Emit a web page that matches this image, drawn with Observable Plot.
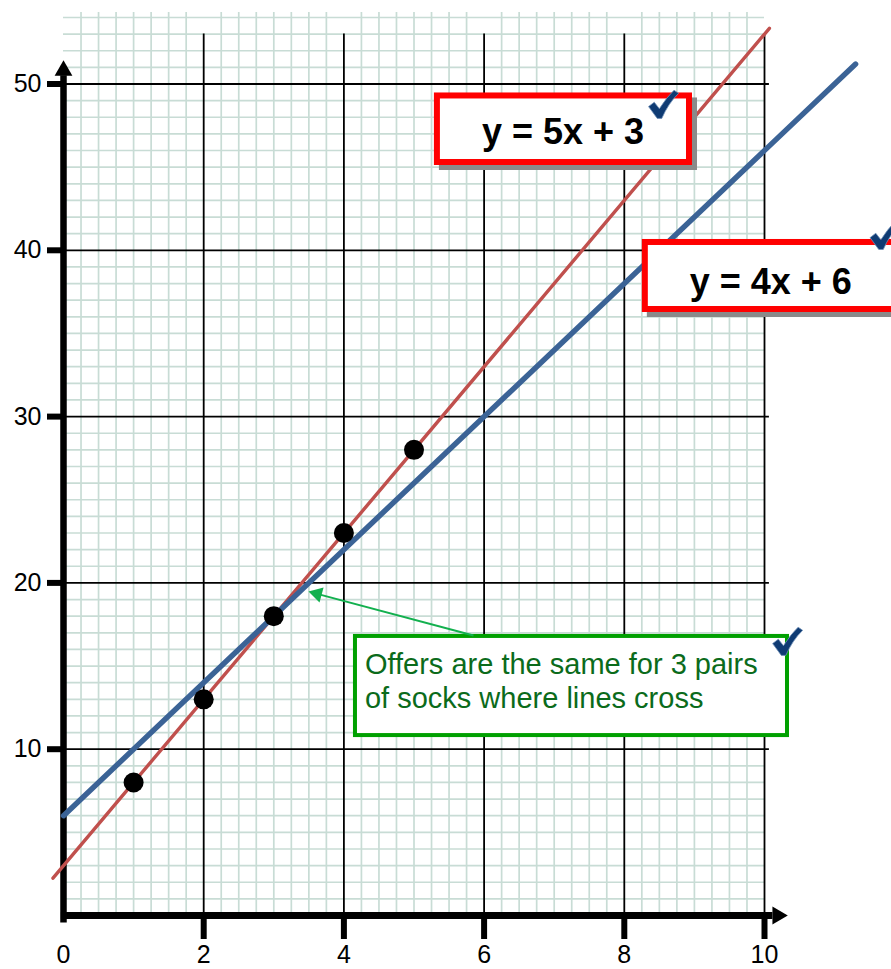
<!DOCTYPE html>
<html>
<head>
<meta charset="utf-8">
<script src="https://cdn.jsdelivr.net/npm/d3@7"></script>
<script src="https://cdn.jsdelivr.net/npm/@observablehq/plot@0.6"></script>
<style>
  html, body { margin: 0; padding: 0; background: #fff; }
  #chart svg { display: block; }
</style>
</head>
<body>
<div id="chart"></div>
<script>
// Pairs of socks bought and the price paid (points plotted on the grid)
const pairs = [1, 2, 3, 4, 5];
const prices = [8, 13, 18, 23, 28];

// The two offers, written as straight lines y = slope * x + intercept
const offerNames = ["y = 5x + 3", "y = 4x + 6"];
const slopes = [5, 4];
const intercepts = [3, 6];
const lineFrom = [-0.15, 0];
const lineTo = [10.07, 11.3];

// Axis tick labels
const xTicks = [0, 2, 4, 6, 8, 10];
const yTicks = [10, 20, 30, 40, 50];

const note = "Offers are the same for 3 pairs\nof socks where lines cross";

const FONT = "'Liberation Sans', Arial, Helvetica, sans-serif";
const GRID = "#c8dcd5";
const RED_LINE = "#c0504d";
const BLUE_LINE = "#3b6396";
const TICK_NAVY = "#0f3b73";

// Straight line for each offer, built from its equation
const offerLines = offerNames.flatMap((name, i) => [
  {name, x: lineFrom[i], y: slopes[i] * lineFrom[i] + intercepts[i]},
  {name, x: lineTo[i], y: slopes[i] * lineTo[i] + intercepts[i]}
]);

// Equation call-outs (box edges and text anchor in data units)
const equationBoxes = [
  {label: offerNames[0], x1: 5.334, x2: 8.93, y1: 49.28, y2: 45.28, tx: 7.125, ty: 47.08},
  {label: offerNames[1], x1: 8.30, x2: 12.4, y1: 40.47, y2: 36.44, tx: 10.09, ty: 38.06}
];
const noteBox = [{x1: 4.165, x2: 10.328, y1: 16.78, y2: 10.82, tx: 4.30, ty: 15.95}];
const noteArrow = [{x1: 5.849, y1: 16.84, x2: 3.619, y2: 19.34}];
const checkMarks = [{x: 8.56, y: 48.77}, {x: 11.72, y: 40.89}, {x: 10.33, y: 16.48}];

// Brush-style tick (check) mark as a custom dot symbol
const checkSymbol = {
  draw(context, size) {
    const r = Math.sqrt(size / Math.PI);
    const sx = r, sy = r * 0.95;
    const P = (x, y) => [x * sx, y * sy];
    context.moveTo(...P(-1.0, 0.15));
    context.lineTo(...P(-0.62, -0.16));
    context.lineTo(...P(-0.28, 0.3));
    context.quadraticCurveTo(...P(0.2, -0.5), ...P(0.7, -1.0));
    context.lineTo(...P(1.0, -0.78));
    context.quadraticCurveTo(...P(0.32, -0.08), ...P(-0.12, 0.98));
    context.lineTo(...P(-0.42, 0.98));
    context.closePath();
  }
};

const minorX = d3.range(0, 10.001, 0.25).filter(v => Math.abs(v / 2 - Math.round(v / 2)) > 1e-9);
const minorY = d3.range(1, 55).filter(v => v % 10 !== 0);
const majorX = xTicks.filter(v => v !== 0);

const chart = Plot.plot({
  width: 891,
  height: 969,
  marginLeft: 63,
  marginRight: 127,
  marginTop: 83.5,
  marginBottom: 54,
  x: {domain: [0, 10], label: null},
  y: {domain: [0, 50], label: null},
  style: {background: "#fff", fontFamily: FONT, color: "#000"},
  marks: [
    // graph paper
    Plot.ruleX(minorX, {y1: 0, y2: 54.3, stroke: GRID, strokeWidth: 1.7}),
    Plot.ruleY(minorY, {x1: 0, x2: 10, stroke: GRID, strokeWidth: 1.7}),
    Plot.ruleX(majorX, {y1: 0, y2: 53, stroke: "#000", strokeWidth: 1.8}),
    Plot.ruleY(yTicks, {x1: 0, x2: 10.07, stroke: "#000", strokeWidth: 1.8}),

    // axes with arrow heads
    Plot.ruleX([0], {y1: -0.45, y2: 50.5, stroke: "#000", strokeWidth: 6.5}),
    Plot.ruleY([0], {x1: -0.03, x2: 10.12, stroke: "#000", strokeWidth: 7}),
    Plot.dot([0], {x: 0, y: 50.81, symbol: "triangle", r: 6.6, fill: "#000", rotate: 0}),
    Plot.dot([0], {x: 10.186, y: 0, symbol: "triangle", r: 6.6, fill: "#000", rotate: 90}),

    // ticks and tick labels
    Plot.axisY(yTicks, {tickSize: 16, tickPadding: 6, strokeWidth: 6, fontSize: 25, label: null}),
    Plot.axisX(majorX, {tickSize: 24, tickPadding: 6, strokeWidth: 6, fontSize: 25, label: null}),
    Plot.axisX([0], {tickSize: 0, tickPadding: 30, fontSize: 25, label: null}),

    // offer lines
    Plot.line(offerLines.filter(d => d.name === offerNames[0]), {x: "x", y: "y", stroke: RED_LINE, strokeWidth: 3.4}),
    Plot.line(offerLines.filter(d => d.name === offerNames[1]), {x: "x", y: "y", stroke: BLUE_LINE, strokeWidth: 5.4}),

    // measured points
    Plot.dot(pairs, {x: pairs, y: prices, r: 10, fill: "#000"}),

    // equation boxes
    Plot.rect(equationBoxes, {x1: "x1", x2: "x2", y1: "y1", y2: "y2", fill: "#8a8a8a", stroke: "#8a8a8a", strokeWidth: 6, dx: 5, dy: 5}),
    Plot.rect(equationBoxes, {x1: "x1", x2: "x2", y1: "y1", y2: "y2", fill: "#fff", stroke: "#ff0000", strokeWidth: 6}),
    Plot.text(equationBoxes, {x: "tx", y: "ty", text: "label", fontSize: 36, fontWeight: "bold", fill: "#000"}),

    // note box and arrow
    Plot.rect(noteBox, {x1: "x1", x2: "x2", y1: "y1", y2: "y2", fill: "#fff", stroke: "#00a000", strokeWidth: 4}),
    Plot.text(noteBox, {x: "tx", y: "ty", text: () => note, textAnchor: "start", lineAnchor: "top", lineHeight: 1.17, fontSize: 29, fill: "#0b6b1b"}),
    Plot.link(noteArrow, {x1: "x1", y1: "y1", x2: "x2", y2: "y2", stroke: "#12b04e", strokeWidth: 2}),
    Plot.dot(noteArrow, {x: "x2", y: "y2", symbol: "triangle", r: 5.8, fill: "#12b04e", rotate: -75}),

    // tick (check) marks
    Plot.dot(checkMarks, {x: "x", y: "y", symbol: checkSymbol, r: 15, fill: TICK_NAVY, stroke: "#6f8fb8", strokeWidth: 0.8})
  ]
});

document.getElementById("chart").appendChild(chart);
</script>
</body>
</html>
